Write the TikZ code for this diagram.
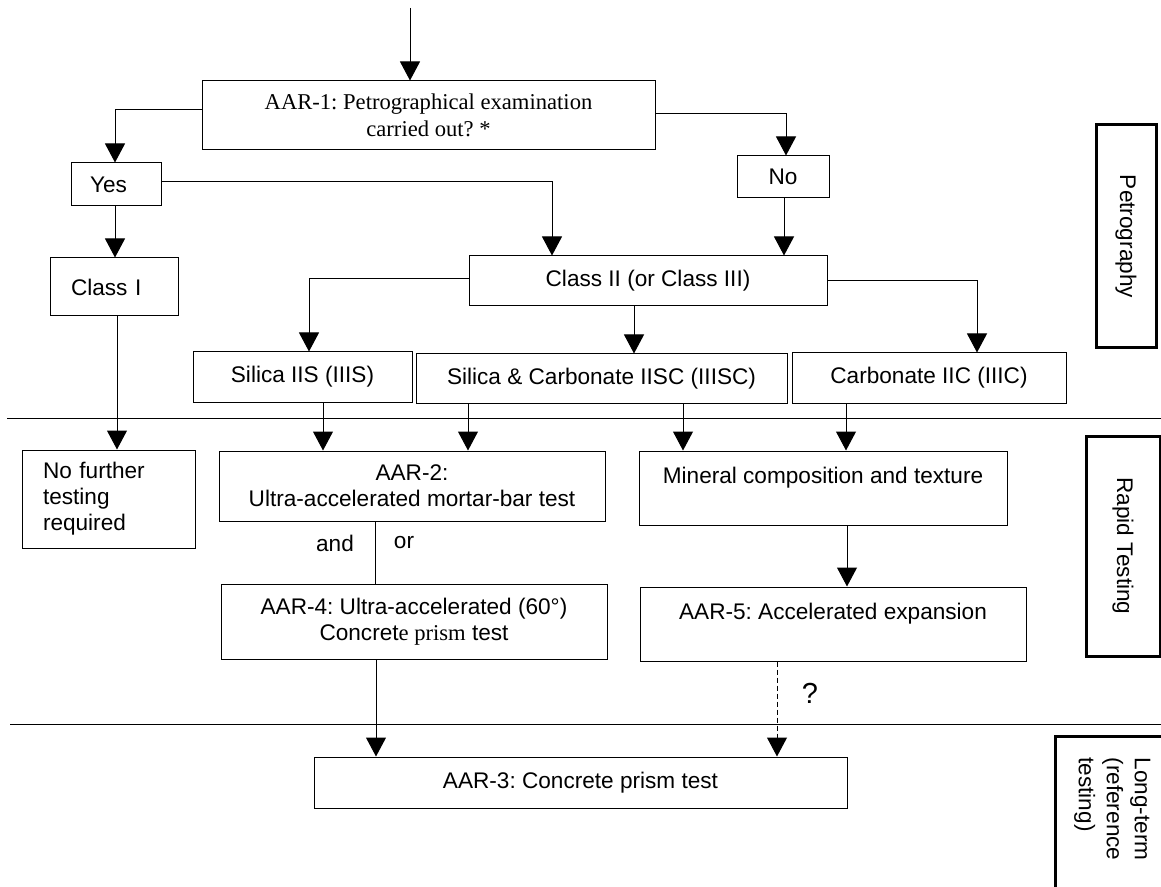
\documentclass[tikz,border=0pt]{standalone}
\usepackage{fontspec}
\setmainfont{Liberation Sans}
\newfontfamily\timesfont{Liberation Serif}
\usetikzlibrary{arrows.meta}
\frenchspacing

\begin{document}
\begin{tikzpicture}[x=0.5pt,y=-0.5pt,line width=0.5pt,
  >={Triangle[width=10pt,length=9.5pt]},
  font=\fontsize{11.3}{13}\selectfont,
  box/.style={draw,align=center,inner sep=0pt},
  leftbox/.style={draw,align=left,inner ysep=0pt},
  sidebox/.style={draw,line width=1.5pt,rotate=-90,inner sep=0pt}]
\useasboundingbox (0,0) rectangle (1161,887);
\clip (0,0) rectangle (1161,887);

% petrography
\coordinate (start) at (410,8);
\node [box,minimum width=226.5pt,minimum height=34.5pt,font=\fontsize{11.3}{13.5}\timesfont] (aar1) at (428.5,115.5) {AAR-1: Petrographical examination\\carried out? *};
\node [leftbox,inner xsep=9.5pt,text width=26pt,minimum height=21.5pt] (yes) at (116,184.5) {Yes};
\node [box,minimum width=46pt,minimum height=21pt] (no) at (783,177) {No};
\node [leftbox,inner xsep=10.5pt,text width=43pt,minimum height=29pt] (class1) at (114,287) {Class I};
\node [box,minimum width=179pt,minimum height=25pt] (class2) at (648,281) {Class II (or Class III)};
\node [box,minimum width=109.5pt,minimum height=25pt] (silica) at (302.5,377) {Silica IIS (IIIS)};
\node [box,minimum width=185.5pt,minimum height=24.5pt] (sicarb) at (601.5,378.5) {Silica \& Carbonate IISC (IIISC)};
\node [box,minimum width=137pt,minimum height=25pt] (carb) at (929,378) {Carbonate IIC (IIIC)};

\draw[->] (start) -- (aar1.north -| 410,0);
\draw[->] ([yshift=2.75pt]aar1.west) -| (yes.north -| 115,0);
\draw[->] ([yshift=0.75pt]aar1.east) -| (no.north -| 786,0);
\draw[->] (yes.south -| 115,0) -- (class1.north -| 115,0);
\draw[->] ([yshift=1.25pt]yes.east) -| (class2.north -| 552,0);
\draw[->] (no.south -| 784,0) -- (class2.north -| 784,0);
\draw[->] ([yshift=1pt]class2.west) -| (silica.north -| 309,0);
\draw[->] (class2.south -| 634,0) -- (sicarb.north -| 634,0);
\draw[->] (class2.east) -| (carb.north -| 977,0);

\draw (7,418) -- (1161,418);

% rapid testing
\node [leftbox,inner xsep=10.5pt,text width=65.5pt,minimum height=49pt] (nofurther) at (108.5,499) {No further\\testing\\required};
\node [box,minimum width=193pt,minimum height=35pt] (aar2) at (412,486) {AAR-2:\\Ultra-accelerated mortar-bar test};
\node [box,minimum width=193pt,minimum height=37.5pt] (aar4) at (414,621.5) {AAR-4: Ultra-accelerated (60°)\\Concret{\timesfont e prism} test};
\node [box,minimum width=184pt,minimum height=37pt] (mineral) at (823,488) {Mineral composition and texture\\\mbox{}};
\node [box,minimum width=193pt,minimum height=37pt] (aar5) at (833,624) {AAR-5: Accelerated expansion\\\mbox{}};
\node (andlbl) at (335,543) {and};
\node (orlbl) at (404,543) {or};
\node [font=\fontsize{14.5}{16}\selectfont] (qmark) at (810,693) {?};

\draw[->] (class1.south -| 117,0) -- (nofurther.north -| 117,0);
\draw[->] (silica.south -| 323,0) -- (aar2.north -| 323,0);
\draw[->] (sicarb.south -| 468,0) -- (aar2.north -| 468,0);
\draw[->] (sicarb.south -| 683,0) -- (mineral.north -| 683,0);
\draw[->] (carb.south -| 846,0) -- (mineral.north -| 846,0);
\draw (aar2.south -| 375,0) -- (aar4.north -| 375,0);
\draw[->] (mineral.south -| 847,0) -- (aar5.north -| 847,0);

\draw (10,724) -- (1161,724);

% long-term
\node [box,minimum width=266.5pt,minimum height=25.5pt] (aar3) at (580.5,782.5) {AAR-3: Concrete prism test};
\draw[->] (aar4.south -| 376,0) -- (aar3.north -| 376,0);
\draw[->,dash pattern=on 2.5pt off 1.5pt] (aar5.south -| 777,0) -- (aar3.north -| 777,0);

% side labels
\node [sidebox,minimum width=111.5pt,minimum height=30pt] (petro) at (1126,236.5) {Petrography};
\node [sidebox,minimum width=110pt,minimum height=37pt] (rapid) at (1123,546) {Rapid Testing};
\draw[line width=1.5pt] (1055,736) rectangle (1180,900);
\node [rotate=-90,anchor=north west,align=left,inner sep=0pt,font=\fontsize{11.3}{14}\selectfont] (longterm) at (1151,757) {Long-term\\(reference\\testing)};
\end{tikzpicture}
\end{document}
